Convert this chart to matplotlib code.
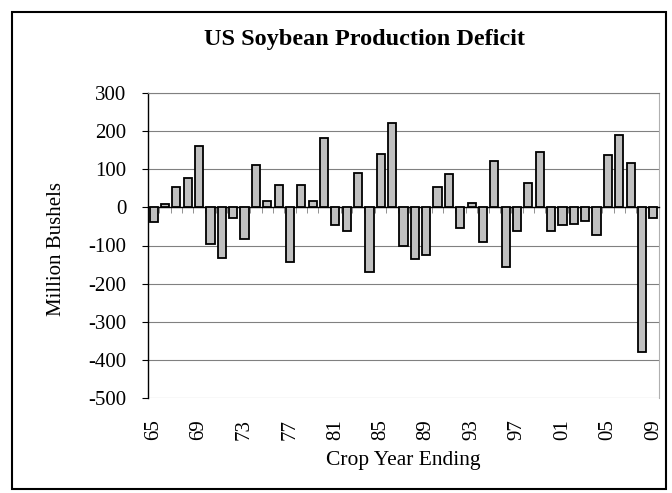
import matplotlib
matplotlib.use('Agg')
import matplotlib.pyplot as plt
from matplotlib.patches import Rectangle
import numpy as np

# crop years 1965..2009, deficit in million bushels
years = ['65', '66', '67', '68', '69', '70', '71', '72', '73', '74',
         '75', '76', '77', '78', '79', '80', '81', '82', '83', '84',
         '85', '86', '87', '88', '89', '90', '91', '92', '93', '94',
         '95', '96', '97', '98', '99', '00', '01', '02', '03', '04',
         '05', '06', '07', '08', '09']
deficit = [-39, 8, 54, 76, 161, -97, -132, -27, -83, 111,
           18, 59, -143, 59, 16, 182, -46, -61, 91, -170,
           141, 220, -100, -135, -124, 54, 87, -55, 11, -90,
           122, -157, -61, 63, 146, -63, -47, -43, -35, -72,
           138, 189, 117, -379, -29]
yticks = [-500, -400, -300, -200, -100, 0, 100, 200, 300]

plt.rcParams['font.family'] = ['Liberation Serif', 'DejaVu Serif']
plt.rcParams['axes.unicode_minus'] = False

fig = plt.figure(figsize=(6.72, 4.93), dpi=100)
ax = fig.add_axes([148/672, 1 - 398/493, (659-148)/672, (398-93)/493])

x = np.arange(len(years))
ax.bar(x, deficit, width=0.72, color='#c0c0c0', edgecolor='black', linewidth=1.3, zorder=3)

ax.set_xlim(-0.5, len(years) - 0.5)
ax.set_ylim(-500, 300)
ax.set_yticks(yticks)
ax.set_yticklabels([str(v) for v in yticks], fontsize=15)
ax.tick_params(axis='y', direction='out', length=4.5, width=0.8, pad=11)
ax.yaxis.grid(True, color='#808080', linewidth=0.8, zorder=0)
ax.set_ylabel('Million Bushels', fontsize=15)
ax.yaxis.set_label_coords(-(148 - 66) / 511, 0.49)

# category axis drawn through zero, ticks between categories
ax.spines['bottom'].set_position(('data', 0))
ax.spines['bottom'].set_linewidth(1.0)
ax.set_xticks(np.arange(-0.5, len(years), 1.0))
ax.set_xticklabels([])
ax.tick_params(axis='x', direction='out', length=4, width=0.6, color='#808080')
ax.spines['top'].set_color('#808080')
ax.spines['right'].set_color('#b0b0b0')
ax.spines['left'].set_linewidth(1.0)
ax.set_xlabel('Crop Year Ending', fontsize=15.5)
ax.xaxis.set_label_coords(0.5, -(451 - 398) / 305)

# year labels sit under the plot area
sec = ax.secondary_xaxis(0)
sec.set_xticks(x[::4])
sec.set_xticklabels(years[::4], rotation=90, fontsize=15)
sec.tick_params(length=0, pad=15)
sec.spines['bottom'].set_visible(False)

fig.text(365/672, 1 - 39/493, 'US Soybean Production Deficit', ha='center', va='center',
         fontsize=17.5, fontweight='bold')

fig.patches.append(Rectangle((12/672, 1 - 489/493), 654/672, 477/493, transform=fig.transFigure,
                             fill=False, edgecolor='black', linewidth=1.5))

fig.savefig('out.png', dpi=100)
